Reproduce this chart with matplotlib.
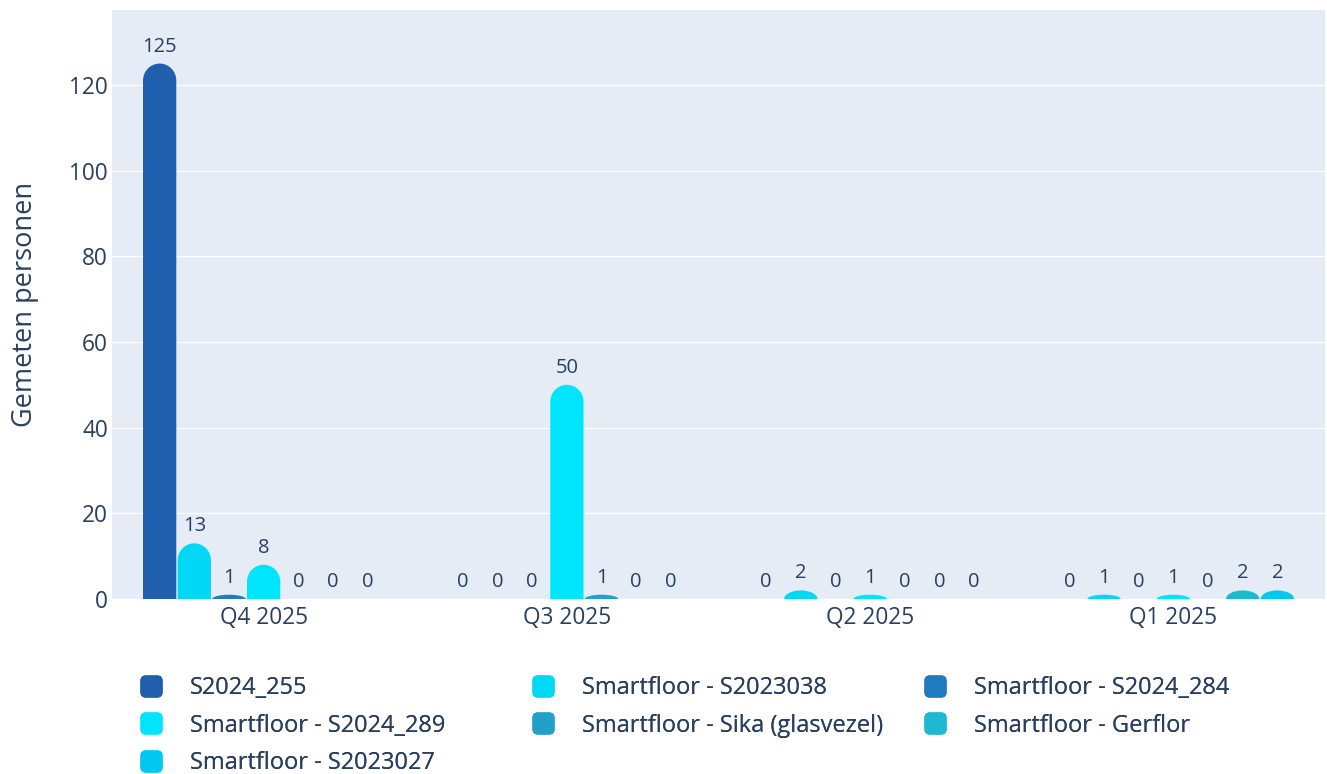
import numpy as np
import matplotlib
matplotlib.use("Agg")
import matplotlib.pyplot as plt
from matplotlib.path import Path
from matplotlib.patches import PathPatch, FancyBboxPatch
from matplotlib.lines import Line2D

plt.rcParams['font.family'] = ['Open Sans', 'DejaVu Sans']

# data
quarters = ['Q4 2025', 'Q3 2025', 'Q2 2025', 'Q1 2025']
series = ['S2024_255', 'Smartfloor - S2023038', 'Smartfloor - S2024_284',
          'Smartfloor - S2024_289', 'Smartfloor - Sika (glasvezel)',
          'Smartfloor - Gerflor', 'Smartfloor - S2023027']
s2024_255 = [125, 0, 0, 0]
s2023038 = [13, 0, 2, 1]
s2024_284 = [1, 0, 0, 0]
s2024_289 = [8, 50, 1, 1]
sika = [0, 1, 0, 0]
gerflor = [0, 0, 0, 2]
s2023027 = [0, 0, 0, 2]
values = [s2024_255, s2023038, s2024_284, s2024_289, sika, gerflor, s2023027]
colors = ['#1f5fad', '#00d8f5', '#1f7bbd', '#00e5fb', '#22a0c8', '#1eb8d0', '#00c8f0']

txt = '#2a3f5f'
W, H = 1327, 774
fig = plt.figure(figsize=(W / 100, H / 100), dpi=100)
ax = fig.add_axes([112 / W, 1 - 599 / H, (1325 - 112) / W, (599 - 10) / H])
ax.set_facecolor('#e5ecf6')
ax.set_xlim(-0.5, 3.5)
ax.set_ylim(0, 137.5)
ax.set_yticks(range(0, 121, 20))
ax.grid(axis='y', color='white', lw=1)
ax.set_axisbelow(True)
for sp in ax.spines.values():
    sp.set_visible(False)
ax.tick_params(length=0, labelsize=16.3, labelcolor=txt)
ax.tick_params(axis='y', pad=3)
ax.tick_params(axis='x', pad=5)
ax.set_xticks(range(len(quarters)))
ax.set_xticklabels(quarters)
ax.set_ylabel('Gemeten personen', fontsize=19.5, color=txt, labelpad=22)

x = np.arange(len(quarters))
slot = 0.8 / len(series)
bw = slot * 0.96

# pixels per data unit for rounding the bar tops
px_y = (599 - 85) / 120
r_px = 17
k = 0.5523

for i, (name, vals, c) in enumerate(zip(series, values, colors)):
    bars = ax.bar(x + (i - 3) * slot, vals, bw, color=c, label=name)
    for b, v in zip(bars, vals):
        b.set_visible(False)
        x0 = b.get_x()
        x1 = x0 + b.get_width()
        h = b.get_height()
        if h > 0:
            rx = b.get_width() / 2
            ry = min(r_px / px_y, h)
            verts = [(x0, 0), (x0, h - ry),
                     (x0, h - ry + k * ry), (x0 + rx - k * rx, h), (x0 + rx, h),
                     (x1 - rx, h),
                     (x1 - rx + k * rx, h), (x1, h - ry + k * ry), (x1, h - ry),
                     (x1, 0), (x0, 0)]
            codes = [Path.MOVETO, Path.LINETO,
                     Path.CURVE4, Path.CURVE4, Path.CURVE4,
                     Path.LINETO,
                     Path.CURVE4, Path.CURVE4, Path.CURVE4,
                     Path.LINETO, Path.CLOSEPOLY]
            ax.add_patch(PathPatch(Path(verts, codes), facecolor=c, edgecolor='none'))
        ax.annotate(str(v), (x0 + b.get_width() / 2, h), xytext=(0, 5),
                    textcoords='offset points', ha='center', va='bottom',
                    fontsize=14.5, color=txt)

# rounded square legend marker
box = FancyBboxPatch((-0.5, -0.5), 1, 1, boxstyle='round,pad=0,rounding_size=0.25')
marker = box.get_path()
handles = [Line2D([], [], ls='none', marker=marker, markersize=16,
                  markerfacecolor=c, markeredgecolor='none') for c in colors]

# legend as three columns, row-major order like the original
cols = [[0, 3, 6], [1, 4], [2, 5]]
col_x = [140, 532, 924]
for xs, idx in zip(col_x, cols):
    leg = fig.legend([handles[j] for j in idx], [series[j] for j in idx],
                     loc='upper left', bbox_to_anchor=(xs / W, 1 - 676 / H),
                     frameon=False, fontsize=17, labelcolor=txt,
                     handlelength=0.95, handletextpad=1.15, labelspacing=0.58,
                     borderaxespad=0, borderpad=0)
    fig.add_artist(leg)

fig.savefig('out.png', dpi=100)
